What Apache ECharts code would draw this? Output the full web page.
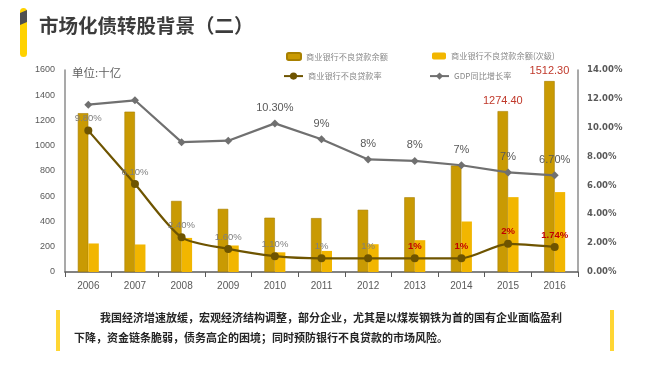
<!DOCTYPE html>
<html><head><meta charset="utf-8">
<script src="https://cdn.jsdelivr.net/npm/echarts@6/dist/echarts.min.js"></script>
<style>html,body{margin:0;padding:0;background:#fff;}#c{width:650px;height:365px;}</style>
</head><body><div id="c"></div>
<script>
const years = ['2006','2007','2008','2009','2010','2011','2012','2013','2014','2015','2016'];
const nplBalance = [1258, 1270, 563, 500, 430, 427, 493, 592, 843, 1274.4, 1512.3];
const nplSubprime = [226, 218, 270, 210, 156, 167, 220, 252, 400, 593, 633];
const nplRate = [9.8, 6.1, 2.4, 1.6, 1.1, 0.95, 0.95, 0.95, 0.95, 1.95, 1.74];
const nplRateLabels = ['9.80%','6.10%','2.40%','1.60%','1.10%','1%','1%','1%','1%','2%','1.74%'];
const nplRateRed = [false,false,false,false,false,false,false,true,true,true,true];
const gdpGrowth = [11.6, 11.9, 9.0, 9.1, 10.3, 9.2, 7.8, 7.7, 7.4, 6.9, 6.7];
const gdpLabels = ['','','','','10.30%','9%','8%','8%','7%','7%','6.70%'];
const balanceLabels = ['','','','','','','','','','1274.40','1512.30'];
const leftTicks = [0,200,400,600,800,1000,1200,1400,1600];
const rightTicks = [0,2,4,6,8,10,12,14];
const seriesNames = ['商业银行不良贷款余额','商业银行不良贷款余额(次级)','商业银行不良贷款率','GDP同比增长率'];

const cjk = "'Noto Sans CJK SC', sans-serif";
const lib = "'Liberation Sans', sans-serif";
const chart = echarts.init(document.getElementById('c'), null, {renderer:'canvas'});
const legTxt = {color:'#8a8a8a', fontSize:8.2, fontFamily:cjk};
const legBase = {padding:0, itemGap:0, textStyle:legTxt, selectedMode:false};
chart.setOption({
  animation:false,
  textStyle:{fontFamily:cjk},
  title:{text:'市场化债转股背景（二）', left:39, top:16, padding:0,
    textStyle:{fontSize:19.5, fontWeight:'bold', color:'#3c3c3c', fontFamily:cjk}},
  legend:[
    Object.assign({data:[seriesNames[0]], left:286, top:52, itemWidth:14, itemHeight:7}, legBase),
    Object.assign({data:[seriesNames[1]], left:432, top:52, itemWidth:14, itemHeight:7}, legBase),
    Object.assign({data:[seriesNames[2]], left:283, top:72, itemWidth:19, itemHeight:9}, legBase),
    Object.assign({data:[seriesNames[3]], left:429, top:72, itemWidth:19, itemHeight:9}, legBase)
  ],
  grid:{left:65, right:72, top:70, bottom:93},
  xAxis:{type:'category', data:years, boundaryGap:true,
    axisLine:{lineStyle:{color:'#595959', width:1.5}},
    axisTick:{show:true, alignWithLabel:false, length:5, lineStyle:{color:'#595959'}},
    axisLabel:{color:'#595959', fontSize:10, margin:9, fontFamily:lib}},
  yAxis:[
    {type:'value', min:0, max:1600, interval:200,
      axisLine:{show:true, lineStyle:{color:'#8c8c8c', width:1.5}},
      axisTick:{show:false}, splitLine:{show:false},
      axisLabel:{color:'#595959', fontSize:9, margin:10, fontFamily:lib,
        formatter:v=>leftTicks.includes(v)?String(v):''}},
    {type:'value', min:0, max:14, interval:2,
      axisLine:{show:true, lineStyle:{color:'#8c8c8c', width:1.5}},
      axisTick:{show:false}, splitLine:{show:false},
      axisLabel:{color:'#595959', fontSize:8.5, fontWeight:'bold', margin:9, fontFamily:"'DejaVu Sans', sans-serif",
        formatter:v=>rightTicks.includes(v)?v.toFixed(2)+'%':''}}
  ],
  series:[
    {name:seriesNames[0], type:'bar', yAxisIndex:0, data:nplBalance, barWidth:10.5, barGap:'0%',
      itemStyle:{color:'#C99A03', borderColor:'#A88000', borderWidth:0.6},
      label:{show:true, position:'top', distance:5, color:'#C0392B', fontSize:11, fontFamily:lib,
        formatter:p=>balanceLabels[p.dataIndex]}},
    {name:seriesNames[1], type:'bar', yAxisIndex:0, data:nplSubprime, barWidth:10.5, barGap:'0%',
      itemStyle:{color:'#F2B600'}},
    {name:seriesNames[2], type:'line', yAxisIndex:1,
      data:nplRate.map((v,i)=>({value:v,
        label:{color:nplRateRed[i]?'#C00000':'#7F7F7F', fontWeight:nplRateRed[i]?'bold':'normal'}})),
      smooth:0.25, symbol:'circle', symbolSize:8, z:5,
      lineStyle:{color:'#6E5400', width:2.2}, itemStyle:{color:'#6E5400'},
      label:{show:true, position:'top', distance:3, fontSize:9.5, fontFamily:lib,
        formatter:p=>nplRateLabels[p.dataIndex]}},
    {name:seriesNames[3], type:'line', yAxisIndex:1, data:gdpGrowth,
      symbol:'diamond', symbolSize:8, z:4,
      lineStyle:{color:'#707070', width:2.2}, itemStyle:{color:'#707070'},
      label:{show:true, position:'top', distance:6, color:'#595959', fontSize:11, fontFamily:lib,
        formatter:p=>gdpLabels[p.dataIndex]}}
  ],
  graphic:[
    {type:'rect', shape:{x:20, y:8, width:7, height:49, r:3.5}, style:{fill:'#FFD200'}},
    {type:'polygon', shape:{points:[[20,13],[27,10],[27,22],[20,25]]}, style:{fill:'#505050'}},
    {type:'text', left:72, top:67, style:{text:'单位:十亿', fill:'#5f5f5f', font:"11.5px 'Noto Sans CJK SC', sans-serif"}},
    {type:'rect', shape:{x:56, y:310, width:4, height:41}, style:{fill:'#FFD633'}},
    {type:'rect', shape:{x:610, y:310, width:4, height:41}, style:{fill:'#FFD633'}},
    {type:'text', left:100, top:312, style:{text:'我国经济增速放缓，宏观经济结构调整，部分企业，尤其是以煤炭钢铁为首的国有企业面临盈利', fill:'#262626', font:"bold 11px 'Noto Sans CJK SC', sans-serif"}},
    {type:'text', left:74, top:332, style:{text:'下降，资金链条脆弱，债务高企的困境；同时预防银行不良贷款的市场风险。', fill:'#262626', font:"bold 11px 'Noto Sans CJK SC', sans-serif"}}
  ]
});
</script></body></html>
